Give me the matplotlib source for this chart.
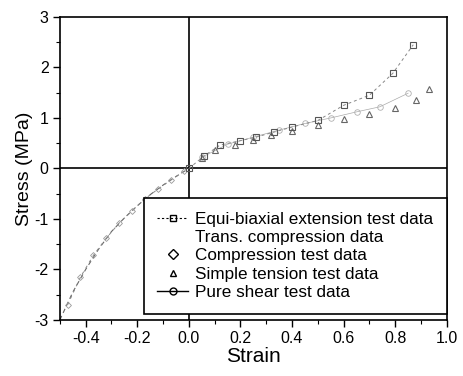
import matplotlib
matplotlib.use("Agg")
import matplotlib.pyplot as plt
from matplotlib.lines import Line2D
from matplotlib.ticker import MultipleLocator

plt.rcParams['font.family'] = ['Liberation Sans', 'DejaVu Sans']
plt.rcParams['axes.unicode_minus'] = False

# Equi-biaxial extension test data (squares, dashed)
eq_x = [0.0, 0.06, 0.12, 0.2, 0.26, 0.33, 0.4, 0.5, 0.6, 0.7, 0.79, 0.87]
eq_y = [0.0, 0.25, 0.46, 0.55, 0.62, 0.72, 0.82, 0.95, 1.25, 1.45, 1.88, 2.45]
# Trans. compression data (dashed, negative side)
tc_x = [-0.5, -0.45, -0.4, -0.35, -0.3, -0.25, -0.2, -0.15, -0.1, -0.05, 0.0]
tc_y = [-3.0, -2.45, -2.0, -1.6, -1.25, -0.98, -0.74, -0.52, -0.33, -0.16, 0.0]
# Compression test data (diamonds)
comp_x = [-0.47, -0.42, -0.37, -0.32, -0.27, -0.22, -0.17, -0.12, -0.07, -0.02]
comp_y = [-2.7, -2.15, -1.72, -1.38, -1.08, -0.84, -0.6, -0.41, -0.23, -0.06]
# Simple tension test data (triangles)
st_x = [0.05, 0.1, 0.18, 0.25, 0.32, 0.4, 0.5, 0.6, 0.7, 0.8, 0.88, 0.93]
st_y = [0.2, 0.36, 0.47, 0.57, 0.66, 0.75, 0.86, 0.97, 1.08, 1.2, 1.35, 1.58]
# Pure shear test data (circles)
ps_x = [0.05, 0.15, 0.25, 0.35, 0.45, 0.55, 0.65, 0.74, 0.85]
ps_y = [0.22, 0.48, 0.62, 0.76, 0.89, 1.0, 1.12, 1.22, 1.49]

fig = plt.figure(figsize=(4.64, 3.76), dpi=100)
ax = fig.add_axes([0.129, 0.149, 0.834, 0.806])

ax.plot(tc_x, tc_y, ls=(0, (4, 3)), color='#666666', lw=0.8)
ax.plot(comp_x, comp_y, ls=(0, (3, 4)), color='#888888', lw=0.7,
        marker='D', ms=3, mfc='none', mec='#999999', mew=0.6)
ax.plot(ps_x, ps_y, ls='-', color='#aaaaaa', lw=0.5,
        marker='o', ms=4, mfc='none', mec='#b0b0b0', mew=0.6)
ax.plot(st_x, st_y, ls='none', marker='^', ms=5, mfc='none', mec='#666666', mew=0.8)
ax.plot(eq_x, eq_y, ls=(0, (3, 3)), color='#888888', lw=0.7,
        marker='s', ms=5, mfc='none', mec='#555555', mew=0.8)

ax.axhline(0, color='black', lw=1.2, zorder=1)
ax.axvline(0, color='black', lw=1.2, zorder=1)

ax.set_xlim(-0.5, 1.0)
ax.set_ylim(-3, 3)
ax.set_xticks([-0.4, -0.2, 0.0, 0.2, 0.4, 0.6, 0.8, 1.0])
ax.xaxis.set_minor_locator(MultipleLocator(0.1))
ax.yaxis.set_major_locator(MultipleLocator(1))
ax.yaxis.set_minor_locator(MultipleLocator(0.5))
ax.tick_params(which='major', direction='out', length=5, width=1, labelsize=11.5, pad=3)
ax.tick_params(which='minor', direction='out', length=3, width=0.8)
for s in ax.spines.values():
    s.set_linewidth(1.2)

ax.set_xlabel('Strain', fontsize=15, labelpad=1)
ax.set_ylabel('Stress (MPa)', fontsize=14, labelpad=1)

handles = [
    Line2D([], [], ls=(0, (2, 2)), color='black', lw=0.8, marker='s', ms=5, mfc='none', mec='black'),
    Line2D([], [], ls='none'),
    Line2D([], [], ls='none', marker='D', ms=5, mfc='none', mec='black', mew=1),
    Line2D([], [], ls='none', marker='^', ms=5, mfc='none', mec='black', mew=1),
    Line2D([], [], ls='-', color='black', lw=1, marker='o', ms=5, mfc='none', mec='black'),
]
labels = ['Equi-biaxial extension test data', 'Trans. compression data',
          'Compression test data', 'Simple tension test data', 'Pure shear test data']
leg = ax.legend(handles, labels, loc='lower right', bbox_to_anchor=(1.0, 0.02),
                borderaxespad=0, fontsize=12.3, frameon=True, fancybox=False,
                handlelength=1.8, handletextpad=0.4, labelspacing=0.2,
                borderpad=0.8)
leg.get_frame().set_edgecolor('black')
leg.get_frame().set_linewidth(1.2)
leg.get_frame().set_alpha(1)

fig.savefig('out.png', dpi=100)
